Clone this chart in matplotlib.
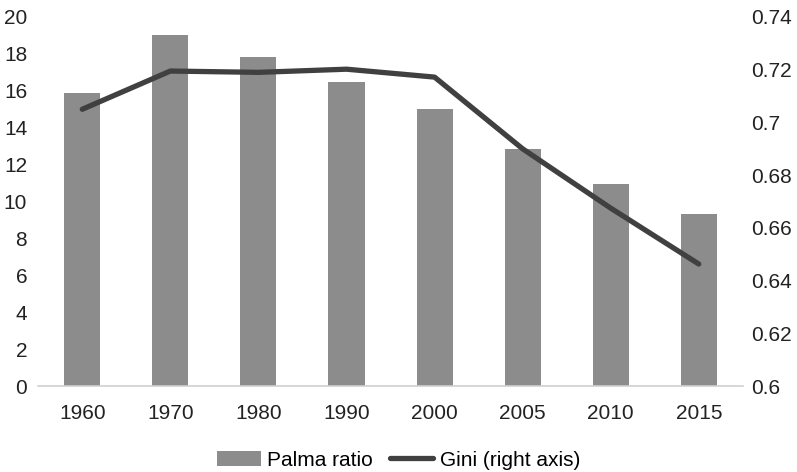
import numpy as np
import matplotlib.pyplot as plt

plt.rcParams['font.family'] = ['Liberation Sans', 'DejaVu Sans']

# data
years = ['1960', '1970', '1980', '1990', '2000', '2005', '2010', '2015']
palma = [15.9, 19.0, 17.85, 16.5, 15.0, 12.85, 10.95, 9.35]
gini = [0.705, 0.7195, 0.719, 0.7202, 0.7172, 0.690, 0.6675, 0.6463]

fig = plt.figure(figsize=(7.97, 4.72), dpi=100)
ax = fig.add_axes([0.048, 0.182, 0.884, 0.782])
x = np.arange(len(years))

ax.bar(x, palma, width=0.41, color='#8c8c8c', label='Palma ratio', zorder=2)
ax.set_xlim(-0.5, len(years) - 0.5)
ax.set_ylim(0, 20)
ax.set_yticks(range(0, 21, 2))
ax.set_xticks(x)
ax.set_xticklabels(years)
for s in ['top', 'right', 'left']:
    ax.spines[s].set_visible(False)
ax.spines['bottom'].set_color('#d0d0d0')
ax.spines['bottom'].set_linewidth(1.2)
ax.tick_params(axis='both', length=0, labelsize=15, colors='#222222')
ax.tick_params(axis='x', pad=13)
ax.tick_params(axis='y', pad=8)

ax2 = ax.twinx()
ax2.plot(x, gini, color='#404040', lw=3.8, solid_capstyle='round', label='Gini (right axis)', zorder=3)
ax2.set_ylim(0.6, 0.74)
ax2.set_yticks([0.6, 0.62, 0.64, 0.66, 0.68, 0.7, 0.72, 0.74])
ax2.set_yticklabels(['0.6', '0.62', '0.64', '0.66', '0.68', '0.7', '0.72', '0.74'])
for s in ['top', 'right', 'left', 'bottom']:
    ax2.spines[s].set_visible(False)
ax2.tick_params(axis='y', length=0, labelsize=15, colors='#222222', pad=6)

h1, l1 = ax.get_legend_handles_labels()
h2, l2 = ax2.get_legend_handles_labels()
fig.legend(h1 + h2, l1 + l2, loc='lower center', bbox_to_anchor=(0.5, -0.035),
           ncol=2, frameon=False, fontsize=15, handlelength=2.1,
           handletextpad=0.3, columnspacing=0.8)

fig.savefig('out.png', dpi=100)
